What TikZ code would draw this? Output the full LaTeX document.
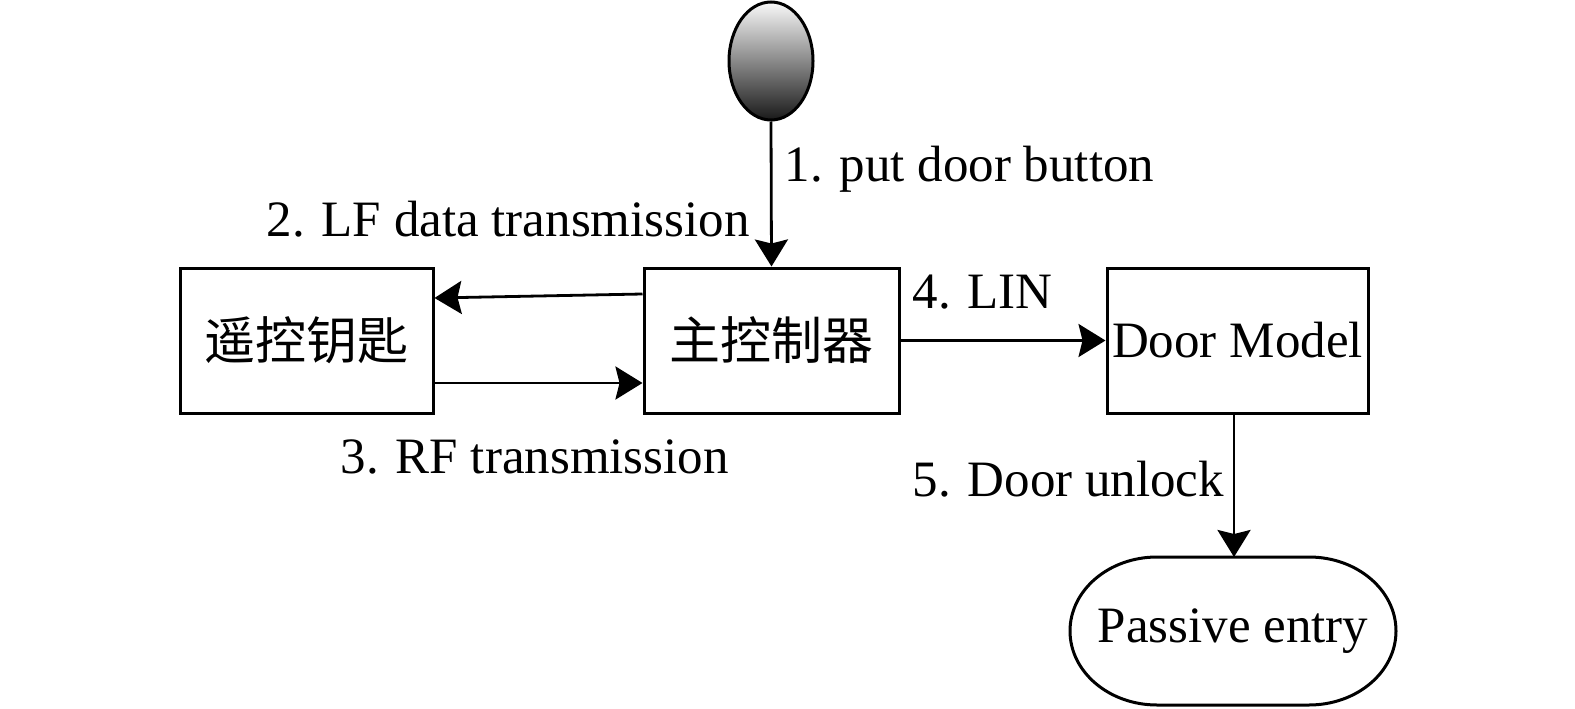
\documentclass[tikz,border=0pt]{standalone}
\usepackage{fontspec}
\setmainfont{Liberation Serif}
\newfontfamily\cjk{Noto Sans CJK SC}
\usetikzlibrary{shapes.geometric,arrows.meta}
\begin{document}
\begin{tikzpicture}[x=1pt,y=1pt,
  font=\fontsize{51}{60}\selectfont,
  every path/.style={line width=3pt},
  blk/.style={draw,line width=3pt,minimum height=145pt,inner sep=0pt},
  lbl/.style={inner sep=0pt,anchor=base west},
  arr/.style={line width=2.8pt,-{Stealth[length=27pt,width=33pt,inset=4pt]}}
]
\useasboundingbox (0,0) rectangle (1575,-709);
\node[blk,minimum width=253pt] (key) at (306.5,-340.5) {\cjk 遥控钥匙};
\node[blk,minimum width=255pt] (main) at (771.5,-340.5) {\cjk 主控制器};
\node[blk,minimum width=261pt] (door) at (1237.5,-340.5) {Door Model};
\node[ellipse,draw,line width=3pt,minimum width=84pt,minimum height=118pt,inner sep=0pt,
  top color=gray!5,bottom color=black!90] (btn) at (771,-61) {};
\node[minimum width=327pt,minimum height=148pt,inner sep=0pt] (pe) at (1233,-631) {Passive entry};
\draw[line width=3pt,line join=round] (1157,-557) -- (1309,-557)
  arc[start angle=90,end angle=-90,x radius=87pt,y radius=74pt]
  -- (1157,-705)
  arc[start angle=270,end angle=90,x radius=87pt,y radius=74pt] -- cycle;
\coordinate (petop) at (1234,-557);
\draw[arr] (btn.south) -- (main.north);
\draw[arr] ([yshift=46.5pt]main.west) -- ([yshift=42.5pt]key.east);
\draw[arr] ([yshift=-42.5pt]key.east) -- ([yshift=-42.5pt]main.west);
\draw[arr] (main.east) -- (door.west);
\draw[arr] (petop |- door.south) -- (petop);
\node[lbl] (l1) at (783,-181) {1. put door button};
\node[lbl] (l2) at (265,-236) {2. LF data transmission};
\node[lbl] (l4) at (911,-308) {4. LIN};
\node[lbl] (l3) at (339,-473) {3. RF transmission};
\node[lbl] (l5) at (911,-496) {5. Door unlock};
\end{tikzpicture}
\end{document}
